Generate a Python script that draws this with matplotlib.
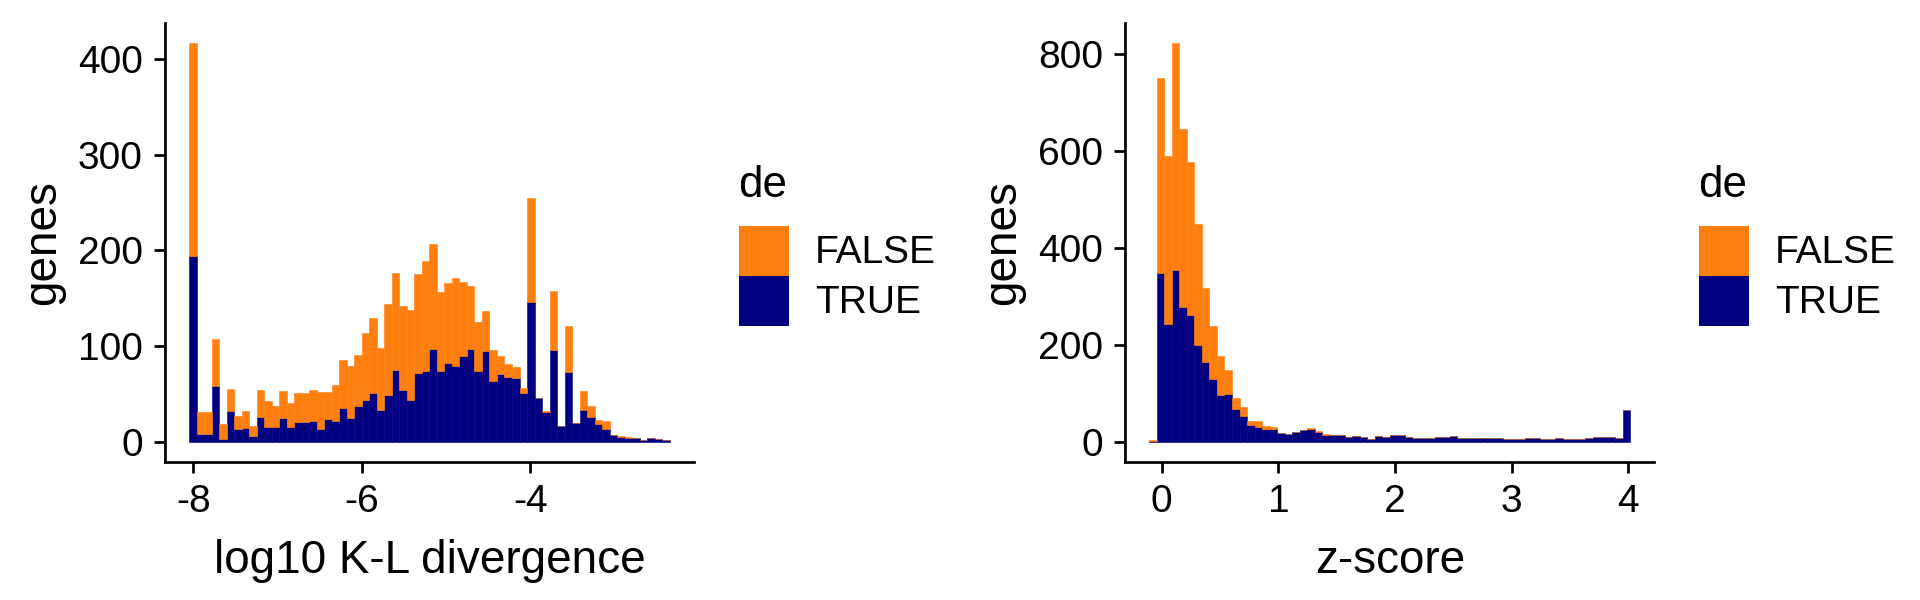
import matplotlib
matplotlib.use("Agg")
import matplotlib.pyplot as plt
from matplotlib.patches import Rectangle
import numpy as np

# --- data (64 bins per panel) ---
kl_bin_start = -8.049
kl_bin_width = 0.0891
kl_true = [194, 8, 8, 58, 3, 32, 13, 14, 6, 26, 15, 15, 25, 15, 20, 20,
           21, 13, 24, 22, 35, 25, 37, 43, 51, 33, 49, 75, 54, 44, 72, 74,
           97, 74, 82, 79, 89, 97, 74, 95, 63, 71, 68, 67, 51, 146, 46, 31,
           96, 16, 73, 19, 33, 26, 18, 13, 7, 5, 4, 4, 2, 4, 3, 2]
kl_false = [223, 23, 23, 49, 15, 23, 14, 18, 10, 28, 27, 22, 28, 25, 31, 31,
            33, 39, 28, 37, 50, 54, 54, 71, 78, 65, 95, 101, 88, 94, 103, 115,
            110, 82, 84, 92, 78, 66, 51, 42, 33, 18, 13, 11, 5, 109, 0, 1,
            62, 0, 48, 0, 20, 11, 5, 8, 0, 1, 1, 0, 0, 0, 0, 0]

z_bin_start = -0.106
z_bin_width = 0.0644
z_true = [1, 347, 242, 354, 277, 261, 199, 165, 128, 96, 98, 68, 52, 35, 31, 25,
          25, 17, 15, 19, 23, 26, 20, 14, 14, 13, 10, 12, 10, 6, 12, 9,
          13, 14, 10, 8, 8, 8, 9, 10, 11, 8, 8, 7, 8, 7, 8, 5,
          5, 6, 8, 7, 6, 6, 8, 6, 6, 5, 8, 9, 10, 10, 7, 65]
z_false = [3, 402, 347, 468, 368, 316, 249, 152, 110, 80, 49, 21, 20, 8, 11, 8,
           6, 1, 1, 1, 1, 1, 1, 1, 0, 1, 0, 0, 0, 0, 0, 0,
           1, 0, 0, 0, 0, 0, 1, 0, 0, 0, 0, 0, 0, 1, 0, 0,
           0, 0, 0, 1, 0, 0, 0, 0, 0, 1, 0, 0, 0, 0, 0, 0]

kl_yticks = [0, 100, 200, 300, 400]
kl_xticks = [-8, -6, -4]
z_yticks = [0, 200, 400, 600, 800]
z_xticks = [0, 1, 2, 3, 4]

groups = ["FALSE", "TRUE"]
colors = {"FALSE": "#FF7F0E", "TRUE": "#000080"}

plt.rcParams["font.family"] = ["Liberation Sans", "DejaVu Sans"]
plt.rcParams["axes.unicode_minus"] = False

W, H = 1920, 600
fig = plt.figure(figsize=(W / 100, H / 100), dpi=100)


def px(x, y):
    return x / W, 1 - y / H


def draw_panel(ax, start, width, true_counts, false_counts, xticks, yticks, xlabel):
    n = len(true_counts)
    centers = start + width * (np.arange(n) + 0.5)
    t = np.array(true_counts)
    f = np.array(false_counts)
    ax.bar(centers, t, width=width, color=colors["TRUE"], edgecolor=colors["TRUE"], linewidth=0.4)
    ax.bar(centers, f, width=width, bottom=t, color=colors["FALSE"], edgecolor=colors["FALSE"], linewidth=0.4)
    ax.use_sticky_edges = False
    ax.margins(x=0.05, y=0.05)
    ax.set_xticks(xticks)
    ax.set_yticks(yticks)
    for s in ["top", "right"]:
        ax.spines[s].set_visible(False)
    for s in ["left", "bottom"]:
        ax.spines[s].set_linewidth(1.95)
        ax.spines[s].set_color("black")
    ax.tick_params(axis="both", length=7.7, width=1.95, color="black",
                   labelsize=28, labelcolor="black", pad=8.5)
    ax.set_xlabel(xlabel, fontsize=33)
    ax.set_ylabel("genes", fontsize=33)
    ax.xaxis.set_label_coords(0.5, -0.176)
    ax.yaxis.set_label_coords(-0.19, 0.5)


def draw_legend(x0, key_top):
    fig.text(*px(x0 - 1, 197), "de", fontsize=31.7, ha="left", va="baseline")
    for i, g in enumerate(groups):
        fx, fy = px(x0, key_top + 50 * (i + 1))
        fig.add_artist(Rectangle((fx, fy), 50 / W, 50 / H, transform=fig.transFigure,
                                 facecolor=colors[g], edgecolor="none"))
        fig.text(*px(x0 + 76, key_top + 50 * i + 27), g, fontsize=28, ha="left", va="center")


ax1 = fig.add_axes([165.3 / W, 1 - 461.5 / H, 528.3 / W, 438.5 / H])
draw_panel(ax1, kl_bin_start, kl_bin_width, kl_true, kl_false, kl_xticks, kl_yticks,
           "log10 K-L divergence")
ax2 = fig.add_axes([1125.3 / W, 1 - 461.5 / H, 529 / W, 438.5 / H])
draw_panel(ax2, z_bin_start, z_bin_width, z_true, z_false, z_xticks, z_yticks, "z-score")

draw_legend(739, 226)
draw_legend(1699, 226)

fig.savefig("out.png", dpi=100)
